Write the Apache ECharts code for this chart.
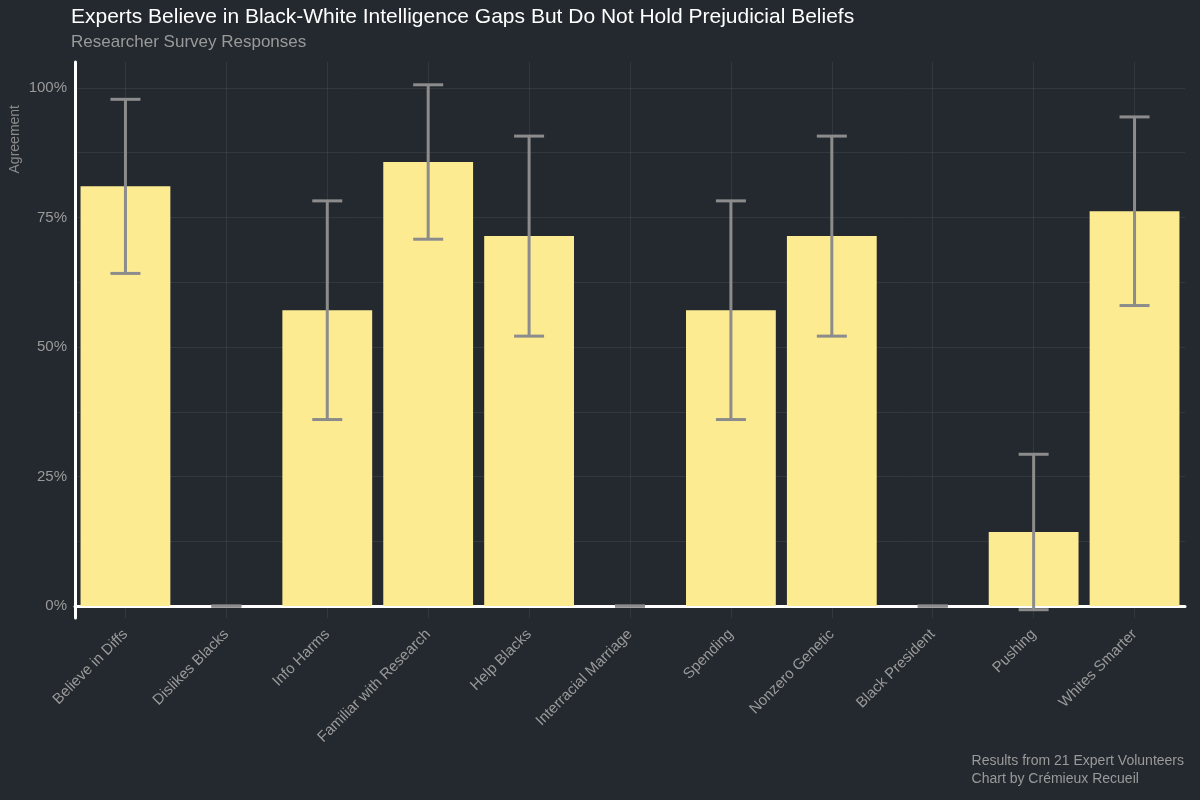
<!DOCTYPE html><html><head><meta charset="utf-8">
<script src="https://cdn.jsdelivr.net/npm/echarts@6/dist/echarts.min.js"></script>
<style>html,body{margin:0;background:#23292f}#c{width:1200px;height:800px}</style></head><body><div id="c"></div>
<script>
const categories=['Believe in Diffs','Dislikes Blacks','Info Harms','Familiar with Research','Help Blacks','Interracial Marriage','Spending','Nonzero Genetic','Black President','Pushing','Whites Smarter'];
const agreement=[81.0,0,57.1,85.7,71.4,0,57.1,71.4,0,14.3,76.2];
const errLow=[64.2,0,36,70.8,52.1,0,36,52.1,0,-0.7,58];
const errHigh=[97.8,0,78.2,100.6,90.7,0,78.2,90.7,0,29.3,94.4];
const yTicks=[0,25,50,75,100];
const fine='rgba(255,255,255,0.07)';
const chart=echarts.init(document.getElementById('c'));
chart.setOption({
 backgroundColor:'#23292f',
 title:{text:'Experts Believe in Black-White Intelligence Gaps But Do Not Hold Prejudicial Beliefs',subtext:'Researcher Survey Responses',left:66,top:2,itemGap:6,
  textStyle:{color:'#ffffff',fontSize:21,fontWeight:'normal',fontFamily:'Liberation Sans'},
  subtextStyle:{color:'#9a9a9a',fontSize:17,fontFamily:'Liberation Sans'}},
 graphic:[
  {type:'text',left:8,top:105,rotation:Math.PI/2,style:{text:'Agreement',fill:'#8a8a8a',fontSize:14,fontFamily:'Liberation Sans'}},
  {type:'text',right:16,bottom:12,style:{text:'Results from 21 Expert Volunteers\nChart by Crémieux Recueil',fill:'#9a9a9a',fontSize:14,align:'right',lineHeight:18,fontFamily:'Liberation Sans'}}
 ],
 grid:{left:75,right:15,top:62,bottom:182},
 xAxis:{type:'category',data:categories,
  axisLine:{lineStyle:{color:'#ffffff',width:3}},axisTick:{show:false},
  axisLabel:{rotate:45,color:'#9a9a9a',fontSize:15,interval:0,margin:14,fontFamily:'Liberation Sans'},splitLine:{show:false}},
 yAxis:{type:'value',min:-2.3,max:105,
  axisLine:{show:true,lineStyle:{color:'#ffffff',width:3}},axisTick:{show:false},splitLine:{show:false},
  axisLabel:{customValues:yTicks,formatter:v=>Math.round(v)+'%',color:'#9a9a9a',fontSize:15,fontFamily:'Liberation Sans'}},
 series:[
  {type:'bar',data:agreement,barWidth:'89%',itemStyle:{color:'#fdeb92'},z:2,
   markLine:{silent:true,symbol:'none',label:{show:false},lineStyle:{color:fine,type:'solid',width:1},z:1,
    data:[0,12.5,25,37.5,50,62.5,75,87.5,100].map(v=>({yAxis:v})).concat(categories.map(c=>({xAxis:c})))}},
  {type:'custom',z:5,data:categories.map((c,i)=>[i,errLow[i],errHigh[i]]),
   renderItem:(p,api)=>{const lo=api.coord([api.value(0),api.value(1)]),hi=api.coord([api.value(0),api.value(2)]);const w=15;
    const st={stroke:'#8c8c8c',lineWidth:3};
    return{type:'group',children:[
     {type:'line',shape:{x1:lo[0],y1:lo[1],x2:hi[0],y2:hi[1]},style:st},
     {type:'line',shape:{x1:lo[0]-w,y1:lo[1],x2:lo[0]+w,y2:lo[1]},style:st},
     {type:'line',shape:{x1:hi[0]-w,y1:hi[1],x2:hi[0]+w,y2:hi[1]},style:st}]};}}
 ]
});
</script></body></html>
